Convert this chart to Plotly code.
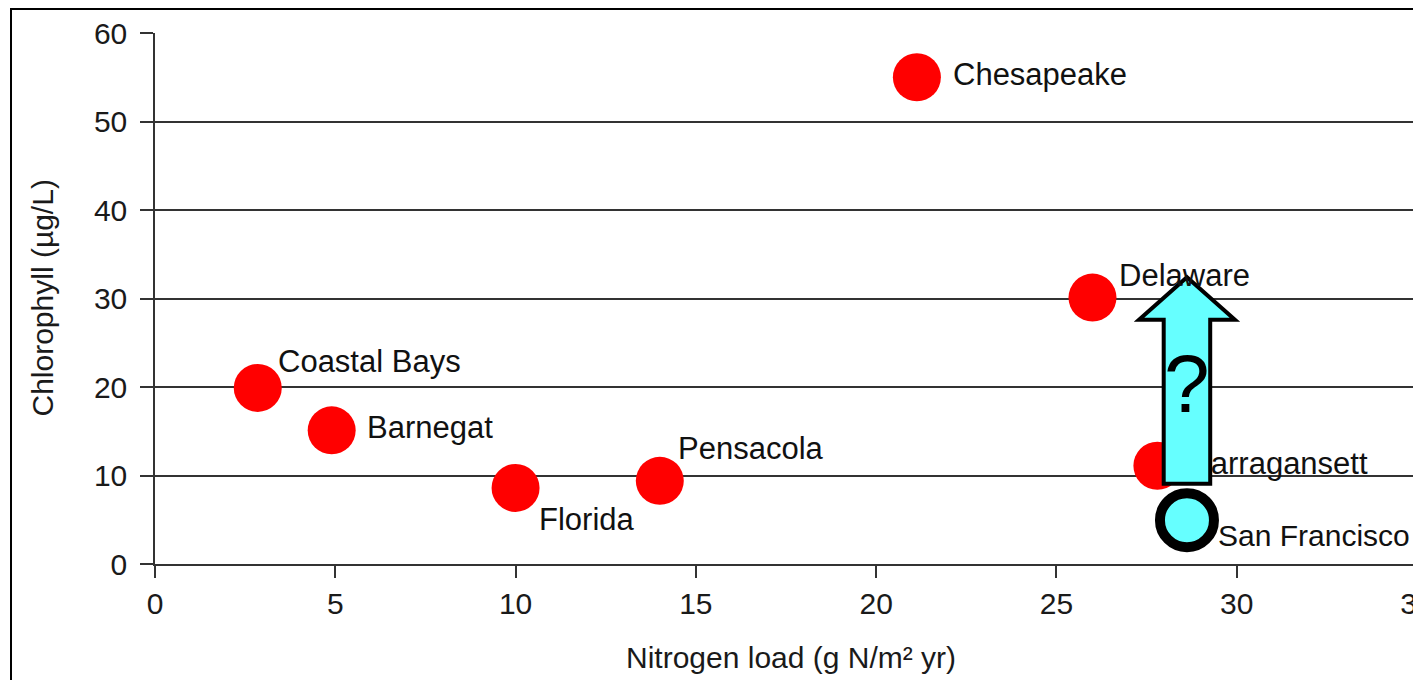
import plotly.graph_objects as go

# ---- data ----
sites = ["Coastal Bays", "Barnegat", "Florida", "Pensacola", "Chesapeake", "Delaware", "Narragansett"]
nitrogen = [2.85, 4.9, 10.0, 14.0, 21.13, 26.0, 27.8]
chlorophyll = [19.9, 15.1, 8.6, 9.4, 55.0, 30.1, 11.1]

sf_site = "San Francisco"
sf_nitrogen = 28.62
sf_chlorophyll = 4.95

x_ticks = [0, 5, 10, 15, 20, 25, 30, 35]
y_ticks = [0, 10, 20, 30, 40, 50, 60]

x_title = "Nitrogen load (g N/m² yr)"
y_title = "Chlorophyll (µg/L)"

# ---- styling ----
FONT = "Liberation Sans, Arial, sans-serif"
LINE = "#333333"
CYAN = "#66FFFF"

# label pixel offsets (xshift, yshift) for annotation labels
label_offsets = {
    "Coastal Bays": (18, 26),
    "Barnegat": (33, 3),
    "Florida": (21, -32),
    "Pensacola": (16, 32),
    "Chesapeake": (34, 3),
    "Delaware": (25, 22),
}

fig = go.Figure()

# red points; Narragansett label drawn with the trace so the arrow covers it
fig.add_trace(go.Scatter(
    x=nitrogen, y=chlorophyll,
    mode="markers+text",
    text=[s if s == "Narragansett" else "" for s in sites],
    textposition="middle right",
    textfont=dict(family=FONT, size=31, color="#111111"),
    marker=dict(size=48, color="#FF0000", line=dict(width=0)),
    cliponaxis=False,
    hoverinfo="skip",
    showlegend=False,
))

# San Francisco point
fig.add_trace(go.Scatter(
    x=[sf_nitrogen], y=[sf_chlorophyll],
    mode="markers",
    marker=dict(size=54, color=CYAN, line=dict(width=10, color="black")),
    cliponaxis=False,
    hoverinfo="skip",
    showlegend=False,
))

annotations = []
for s, xv, yv in zip(sites, nitrogen, chlorophyll):
    if s in label_offsets:
        dx, dy = label_offsets[s]
        annotations.append(dict(
            x=xv, y=yv, xref="x", yref="y", text=s, showarrow=False,
            xanchor="left", yanchor="middle", xshift=dx, yshift=dy,
            font=dict(family=FONT, size=31, color="#111111"),
        ))
annotations.append(dict(
    x=sf_nitrogen, y=sf_chlorophyll, xref="x", yref="y", text=sf_site, showarrow=False,
    xanchor="left", yanchor="middle", xshift=29, yshift=-15,
    font=dict(family=FONT, size=30, color="#111111"),
))

# block arrow rising from San Francisco (a question: will it move up?)
ax = sf_nitrogen
shaft_hw = 0.645
head_hw = 1.33
shaft_bottom = 9.07
head_base = 27.6
tip = 32.4
arrow_path = (
    f"M {ax - shaft_hw},{shaft_bottom} L {ax - shaft_hw},{head_base} "
    f"L {ax - head_hw},{head_base} L {ax},{tip} L {ax + head_hw},{head_base} "
    f"L {ax + shaft_hw},{head_base} L {ax + shaft_hw},{shaft_bottom} Z"
)
shapes = [
    dict(type="path", xref="x", yref="y", path=arrow_path,
         fillcolor=CYAN, line=dict(color="black", width=4), layer="above"),
    dict(type="rect", xref="paper", yref="paper",
         x0=-0.1141, x1=1.02, y0=-0.25, y1=1.045,
         line=dict(color="black", width=2), fillcolor="rgba(0,0,0,0)", layer="above"),
]
annotations.append(dict(
    x=ax, y=(shaft_bottom + head_base) / 2 + 2.1, xref="x", yref="y", text="?",
    showarrow=False, xanchor="center", yanchor="middle",
    font=dict(family=FONT, size=82, color="black"),
))

# axis titles
annotations.append(dict(
    x=0.5, y=0, xref="paper", yref="paper", text=x_title, showarrow=False,
    xanchor="center", yanchor="middle", xshift=5, yshift=-93,
    font=dict(family=FONT, size=30, color="#1a1a1a"),
))
annotations.append(dict(
    x=0, y=0.5, xref="paper", yref="paper", text=y_title, showarrow=False,
    xanchor="center", yanchor="middle", xshift=-113, textangle=-90,
    font=dict(family=FONT, size=30, color="#1a1a1a"),
))

fig.update_layout(
    width=1413, height=672,
    margin=dict(l=147, r=4, t=25, b=116, autoexpand=False),
    paper_bgcolor="white", plot_bgcolor="white",
    showlegend=False,
    shapes=shapes,
    annotations=annotations,
    xaxis=dict(
        range=[0, 35], tickvals=x_ticks, ticktext=[str(v) for v in x_ticks],
        showgrid=False, zeroline=False, automargin=False,
        showline=True, linecolor=LINE, linewidth=1.5,
        ticks="outside", ticklen=12, tickwidth=1.5, tickcolor=LINE,
        ticklabeloverflow="allow",
        tickfont=dict(family=FONT, size=30, color="#1a1a1a"),
        fixedrange=True,
    ),
    yaxis=dict(
        range=[0, 60], tickvals=y_ticks, ticktext=[str(v) for v in y_ticks],
        showgrid=True, gridcolor=LINE, gridwidth=1.5, zeroline=False, automargin=False,
        showline=True, linecolor=LINE, linewidth=1.5,
        ticks="outside", ticklen=13, tickwidth=1.5, tickcolor=LINE,
        ticklabelstandoff=7,
        tickfont=dict(family=FONT, size=30, color="#1a1a1a"),
        fixedrange=True,
    ),
)

fig.write_html("out.html")
